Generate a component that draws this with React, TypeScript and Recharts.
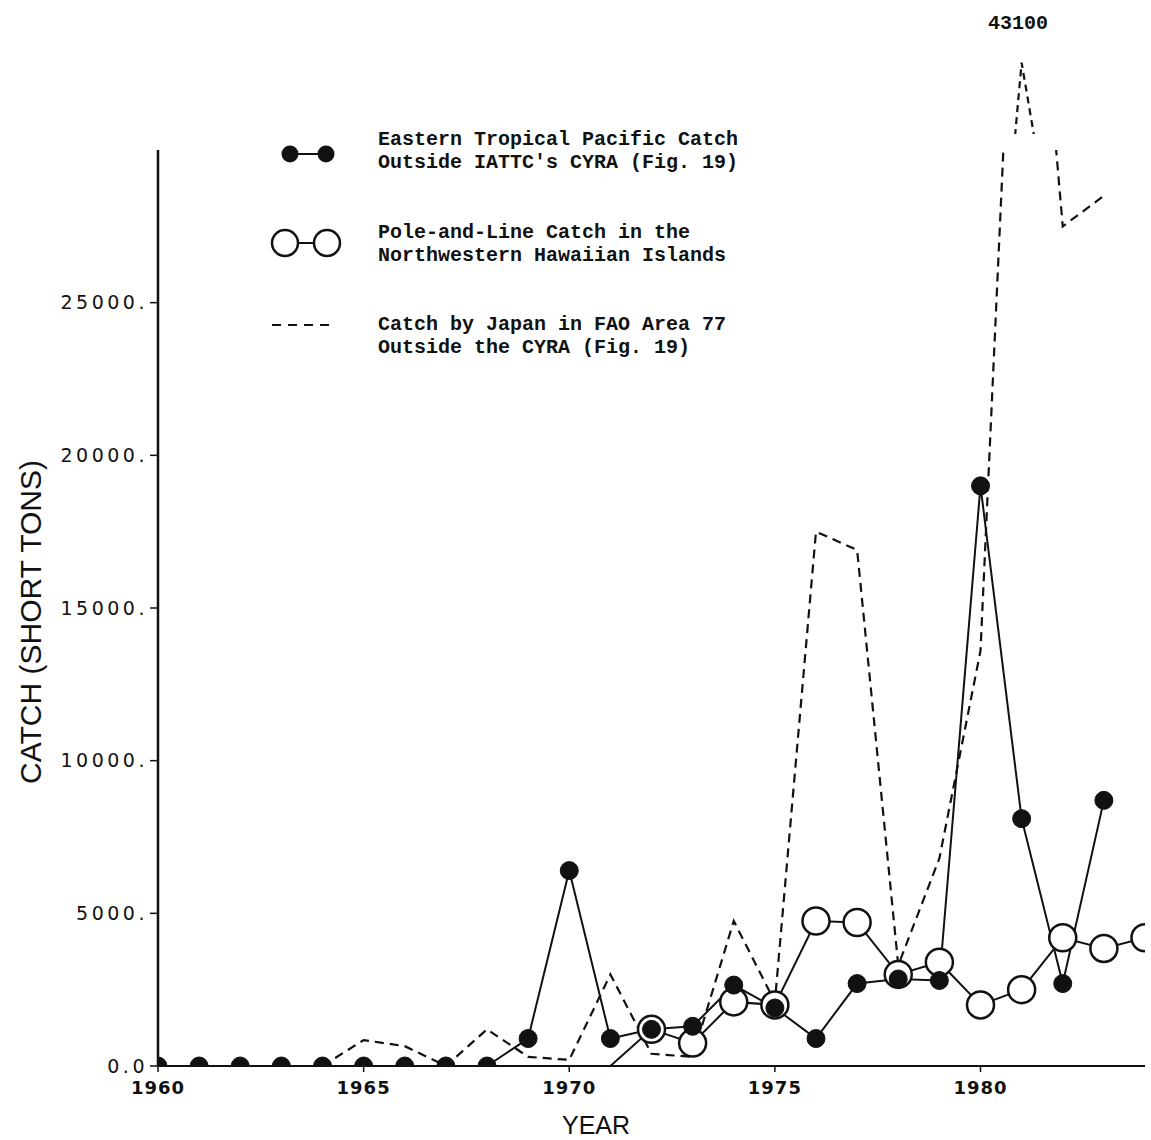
import React from "react";
import { LineChart, Line, XAxis, YAxis, Legend, Label } from "recharts";

// catch in short tons
const years = [
  1960, 1961, 1962, 1963, 1964, 1965, 1966, 1967, 1968, 1969, 1970, 1971, 1972,
  1973, 1974, 1975, 1976, 1977, 1978, 1979, 1980, 1981, 1982, 1983, 1984,
];
const easternPacificCatch = [
  0, 0, 0, 0, 0, 0, 0, 0, 0, 900, 6400, 900, 1200, 1300, 2650, 1900, 900, 2700,
  2850, 2800, 19000, 8100, 2700, 8700, null,
];
const poleAndLineCatch = [
  null, null, null, null, null, null, null, null, null, null, null, 0, 1200, 750,
  2100, 2000, 4750, 4700, 3000, 3400, 2000, 2500, 4200, 3850, 4200,
];
const japanArea77Catch = [
  null, null, null, null, 0, 850, 650, 0, 1200, 300, 200, 3000, 400, 300, 4750,
  2100, 17500, 16900, 3300, 6800, 13600, 43100, 27500, 28500, null,
];
const yTicks = [0, 5000, 10000, 15000, 20000, 25000];
const xTicks = [1960, 1965, 1970, 1975, 1980];

const data = years.map((year, i) => ({
  year,
  etp: easternPacificCatch[i],
  nwhi: poleAndLineCatch[i],
  japan: japanArea77Catch[i],
}));

const INK = "#111";
const W = 1151;
const H = 1140;

const legendText: Record<string, string[]> = {
  etp: ["Eastern Tropical Pacific Catch", "Outside IATTC's CYRA (Fig. 19)"],
  nwhi: ["Pole-and-Line Catch in the", "Northwestern Hawaiian Islands"],
  japan: ["Catch by Japan in FAO Area 77", "Outside the CYRA (Fig. 19)"],
};
const legendOrder = ["etp", "nwhi", "japan"];

const FilledDot = (props: any) => {
  const { cx, cy, value, index } = props;
  if (cx == null || cy == null || value == null) return <g key={`f${index}`} />;
  return <circle key={`f${index}`} cx={cx} cy={cy} r={9} fill={INK} stroke={INK} strokeWidth={1} />;
};

// the 1971 start of the pole-and-line series sits on the axis without a marker
const OpenDot = (props: any) => {
  const { cx, cy, value, index } = props;
  if (cx == null || cy == null || value == null || value === 0) return <g key={`o${index}`} />;
  return <circle key={`o${index}`} cx={cx} cy={cy} r={13.5} fill="#fff" stroke={INK} strokeWidth={2.5} />;
};

const LegendIcon = ({ kind }: { kind: string }) => {
  if (kind === "etp")
    return (
      <svg width={90} height={36}>
        <line x1={35} y1={18} x2={71} y2={18} stroke={INK} strokeWidth={2} />
        <circle cx={35} cy={18} r={8.5} fill={INK} />
        <circle cx={71} cy={18} r={8.5} fill={INK} />
      </svg>
    );
  if (kind === "nwhi")
    return (
      <svg width={90} height={36}>
        <line x1={30} y1={18} x2={72} y2={18} stroke={INK} strokeWidth={2} />
        <circle cx={30} cy={18} r={13} fill="#fff" stroke={INK} strokeWidth={2.5} />
        <circle cx={72} cy={18} r={13} fill="#fff" stroke={INK} strokeWidth={2.5} />
      </svg>
    );
  return (
    <svg width={90} height={36}>
      <line x1={17} y1={18} x2={80} y2={18} stroke={INK} strokeWidth={2.2} strokeDasharray="9 7" />
    </svg>
  );
};

const iconShift: Record<string, number> = { etp: 14, nwhi: 10, japan: 0 };

const renderLegend = () => (
  <div style={{ position: "relative", width: 600, height: 260 }}>
    {legendOrder.map((key, i) => {
      const top = i * 92.5;
      return (
        <React.Fragment key={key}>
          <div style={{ position: "absolute", left: 0, top: top - 6 + iconShift[key] }}>
            <LegendIcon kind={key} />
          </div>
          <div
            style={{
              position: "absolute",
              left: 123,
              top,
              fontFamily: "'Liberation Mono', 'Courier New', monospace",
              fontSize: 20,
              fontWeight: 700,
              lineHeight: "23px",
              color: INK,
              whiteSpace: "pre",
            }}
          >
            {legendText[key].join("\n")}
          </div>
        </React.Fragment>
      );
    })}
  </div>
);

export default function App() {
  const peak = Math.max(...japanArea77Catch.filter((v): v is number => v != null));
  return (
    <div style={{ position: "absolute", left: 0, top: 0, width: W, height: H, background: "#fff" }}>
      <LineChart width={W} height={H} data={data} margin={{ top: 150, right: 6, bottom: 14, left: 8 }}>
        <XAxis
          dataKey="year"
          type="number"
          domain={[1960, 1984]}
          ticks={xTicks}
          allowDataOverflow
          height={60}
          axisLine={{ stroke: INK, strokeWidth: 2 }}
          tickLine={{ stroke: INK, strokeWidth: 1.5 }}
          tickSize={6}
          tickMargin={9}
          tick={{ fill: INK, fontSize: 18, fontWeight: 700, fontFamily: "'DejaVu Sans', sans-serif", letterSpacing: 1 }}
        >
          <Label
            content={() => (
              <text
                x={596}
                y={1125}
                textAnchor="middle"
                dominantBaseline="central"
                fontFamily="'Liberation Sans', Arial, sans-serif"
                fontSize={25}
                fill={INK}
              >
                YEAR
              </text>
            )}
          />
        </XAxis>
        <YAxis
          type="number"
          domain={[0, 30000]}
          ticks={yTicks}
          allowDataOverflow
          width={150}
          tickFormatter={(v: number) => (v === 0 ? "0.0" : `${v}.`)}
          axisLine={{ stroke: INK, strokeWidth: 2.5 }}
          tickLine={{ stroke: INK, strokeWidth: 1.5 }}
          tickSize={8}
          tickMargin={2}
          tick={{ fill: INK, fontSize: 19, fontFamily: "'DejaVu Sans', sans-serif", letterSpacing: 3.5 }}
        >
          <Label
            content={() => (
              <text
                x={30}
                y={622}
                transform="rotate(-90 30 622)"
                textAnchor="middle"
                dominantBaseline="central"
                fontFamily="'Liberation Sans', Arial, sans-serif"
                fontSize={30}
                fill={INK}
              >
                CATCH (SHORT TONS)
              </text>
            )}
          />
        </YAxis>
        <Legend
          layout="vertical"
          align="center"
          verticalAlign="middle"
          wrapperStyle={{ left: 255, top: 128, width: 600, height: 260 }}
          content={renderLegend}
        />
        <Line
          dataKey="japan"
          stroke={INK}
          strokeWidth={2.2}
          strokeDasharray="9 6"
          dot={false}
          activeDot={false}
          isAnimationActive={false}
        />
        <Line
          dataKey="nwhi"
          stroke={INK}
          strokeWidth={2}
          dot={OpenDot}
          activeDot={false}
          isAnimationActive={false}
        />
        <Line
          dataKey="etp"
          stroke={INK}
          strokeWidth={2}
          dot={FilledDot}
          activeDot={false}
          isAnimationActive={false}
        />
      </LineChart>

      {/* the off-scale 1981 peak, drawn above the frame on a compressed scale */}
      <div style={{ position: "absolute", left: 0, top: 0, pointerEvents: "none" }}>
        <LineChart width={W} height={H} data={data} margin={{ top: 58, right: 6, bottom: 1006, left: 158 }}>
          <XAxis dataKey="year" type="number" domain={[1960, 1984]} hide allowDataOverflow />
          <YAxis type="number" domain={[38500, 43400]} hide allowDataOverflow />
          <Line
            dataKey="japan"
            stroke={INK}
            strokeWidth={2.2}
            strokeDasharray="7 5"
            dot={false}
            activeDot={false}
            isAnimationActive={false}
          />
        </LineChart>
      </div>
      <div
        style={{
          position: "absolute",
          left: 968,
          top: 12,
          width: 100,
          textAlign: "center",
          fontFamily: "'Liberation Mono', 'Courier New', monospace",
          fontWeight: 700,
          fontSize: 20,
          color: INK,
        }}
      >
        {peak}
      </div>
    </div>
  );
}
